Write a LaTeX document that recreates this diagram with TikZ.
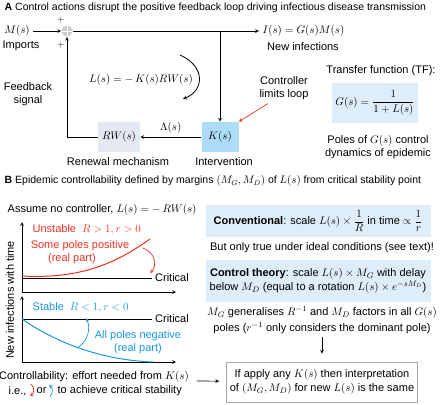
\documentclass[tikz,border=0pt]{standalone}
\usepackage{amsmath,amssymb}
\usepackage{fontspec}
\setmainfont{Liberation Sans}
\usetikzlibrary{arrows.meta, positioning}
\definecolor{unstred}{RGB}{236,50,30}
\definecolor{stabblue}{RGB}{25,150,228}
\definecolor{kblue}{RGB}{172,220,248}
\definecolor{rwgray}{RGB}{228,232,241}
\definecolor{paleblue}{RGB}{221,238,250}

\begin{document}
\begin{tikzpicture}[>=stealth, x=1pt, y=-1pt, line width=0.7pt,
    font=\fontsize{11}{13.5}\selectfont,
    block/.style={minimum height=30pt, inner sep=1pt},
    panel/.style={fill=paleblue, minimum width=225pt, align=center, inner sep=2pt}]
    \useasboundingbox (0,0) rectangle (440,405);

    \node[anchor=west] (titleA) at (1,8) {\fontsize{10.5}{13}\selectfont\textbf{A} Control actions disrupt the positive feedback loop driving infectious disease transmission};
    \node (Ms) at (17,31) {$M(s)$};
    \node[circle, fill=gray!40, minimum size=11pt, inner sep=0pt] (sum) at (67,31) {};
    \draw[white, line width=1pt] (sum.north) -- (sum.south) (sum.west) -- (sum.east);
    \node (plusT) at (61,20) {\small$+$};
    \node (plusB) at (61,45) {\small$+$};
    \node (imports) at (21,46) {Imports};
    \node[anchor=west] (Is) at (259,31) {$I(s) = G(s)M(s)$};
    \node (newinf) at (303,47) {New infections};
    \node[block, fill=kblue, minimum width=37pt] (Ks) at (220,137) {$K(s)$};
    \node[block, fill=rwgray, minimum width=42pt] (RWs) at (119,137) {$RW(s)$};
    \coordinate (tap) at (220,31);
    \draw[->] (Ms) -- (sum);
    \draw[->] (sum) -- (Is);
    \draw[->] (tap) -- (Ks);
    \draw[->] (Ks) -- node[above] (Lam) {$\Lambda(s)$} (RWs);
    \draw[->] (RWs) -| (sum);
    \node[align=center] (fb) at (28,94) {Feedback\\signal};
    \node (Ls) at (141,80) {$L(s) = -\,K(s)RW(s)$};
    \draw[->, line width=0.8pt] (180,55) .. controls (205,66) and (205,90) .. (183,99);
    \node[align=center] (ctrl) at (284,88) {Controller\\limits loop};
    \draw[->, unstred] ([xshift=-16pt]ctrl.south) -- (Ks.north east);
    \node (tflabel) at (381,71) {Transfer function (TF):};
    \node[fill=paleblue, minimum width=86pt, minimum height=40pt] (tf) at (375,103) {$G(s) = \dfrac{1}{1+L(s)}$};
    \node[align=center] (poles) at (378,147) {Poles of $G(s)$ control\\dynamics of epidemic};
    \node (renewal) at (118,162) {Renewal mechanism};
    \node (interv) at (224,162) {Intervention};

    \node[anchor=west] (titleB) at (1,181) {\fontsize{10.5}{13}\selectfont\textbf{B} Epidemic controllability defined by margins $(M_G, M_D)$ of $L(s)$ from critical stability point};
    \node[anchor=west] (assume) at (4,210) {Assume no controller, $L(s) = -\,RW(s)$};

    \coordinate (oT) at (22,292);
    \coordinate (yT) at (22,222);
    \coordinate (xT) at (176,292);
    \draw[->] (oT) -- (yT);
    \draw[->] (oT) -- (xT);
    \coordinate (cT) at (22,278);
    \node (critT) at (172,278) {Critical};
    \draw (cT) -- (critT);
    \draw[unstred, line width=1pt] (22,276) .. controls (80,279) and (115,264) .. (150,239);
    \node[anchor=west, text=unstred] (unst) at (29,230) {Unstable\ \ $R > 1, r > 0$};
    \node[text=unstred] (somepos) at (80,246) {Some poles positive};
    \node[text=unstred] (realT) at (72,259) {(real part)};
    \draw[->, unstred] (143,248) .. controls (156,253) and (157,266) .. (150,273);

    \coordinate (oB) at (22,362);
    \coordinate (yB) at (22,296);
    \coordinate (xB) at (176,362);
    \draw[->] (oB) -- (yB);
    \draw[->] (oB) -- (xB);
    \coordinate (cB) at (22,319);
    \node (critB) at (172,319) {Critical};
    \draw (cB) -- (critB);
    \draw[stabblue, line width=1pt] (22,319) .. controls (55,342) and (100,360) .. (153,362);
    \node[anchor=west, text=stabblue] (stab) at (29,308) {Stable\ \ $R < 1, r < 0$};
    \node[text=stabblue, align=center] (allneg) at (138,342) {All poles negative\\(real part)};
    \draw[->, stabblue] (77,348) .. controls (88,342) and (91,328) .. (86,318);
    \node[rotate=90] (ylab) at (10,300) {New infections with time};

    \node (contr) at (94,377) {Controllability: effort needed from $K(s)$};
    \node[anchor=west] (ie) at (5,391) {i.e.,};
    \node[anchor=west] (orw) at (33,391) {or};
    \node[anchor=west] (achieve) at (54,391) {to achieve critical stability};
    \draw[->, unstred] (31,384) .. controls (35,388) and (34,393) .. (30,396);
    \draw[->, stabblue] (50,397) .. controls (53,393) and (53,388) .. (49,385);

    \node[panel, minimum height=32pt] (conv) at (318,221) {\textbf{Conventional}: scale $L(s) \times \dfrac{1}{R}$ in time $\propto \dfrac{1}{r}$};
    \node (butonly) at (322,248) {But only true under ideal conditions (see text)!};
    \node[panel, minimum height=42pt] (ctheory) at (318,281) {\textbf{Control theory}: scale $L(s) \times M_G$ with delay\\below $M_D$ (equal to a rotation $L(s) \times e^{-sM_D}$)};
    \node[align=center] (gen) at (322,320) {$M_G$ generalises $R^{-1}$ and $M_D$ factors in all $G(s)$\\[2pt]poles ($r^{-1}$ only considers the dominant pole)};
    \node[draw=gray!70, align=center, minimum width=180pt, minimum height=40pt] (final) at (322,382) {If apply any $K(s)$ then interpretation\\of $(M_G, M_D)$ for new $L(s)$ is the same};
    \draw[->, shorten >=8pt] (gen) -- (final);
    \coordinate (controut) at (197,381);
    \draw[->, shorten >=7pt] (controut) -- (final);
\end{tikzpicture}
\end{document}
